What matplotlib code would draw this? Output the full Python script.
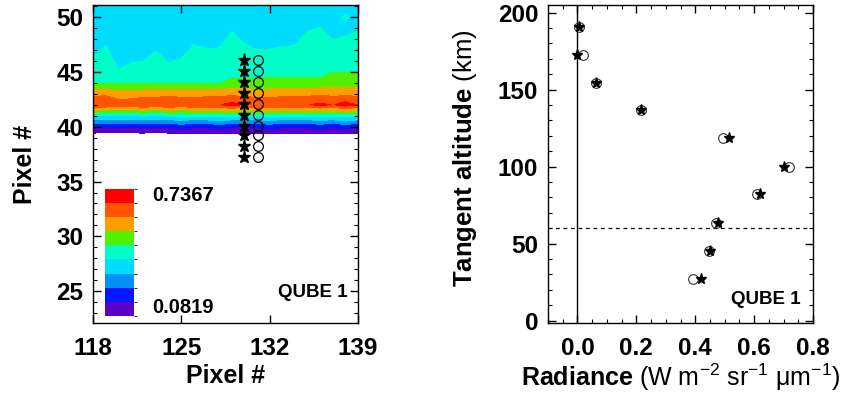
import numpy as np
import matplotlib
matplotlib.use("Agg")
import matplotlib.pyplot as plt
from matplotlib.colors import ListedColormap, BoundaryNorm
from matplotlib.ticker import MultipleLocator

plt.rcParams["font.family"] = "Liberation Sans"
plt.rcParams["mathtext.fontset"] = "custom"
plt.rcParams["mathtext.rm"] = "Liberation Sans"
plt.rcParams["mathtext.bf"] = "Liberation Sans:bold"
plt.rcParams["mathtext.it"] = "Liberation Sans:italic"

# ---- left panel: radiance image of the qube (pixel columns x pixel rows)
columns = np.arange(118, 140)
rows = np.array([39, 40, 41, 42, 43, 44, 45, 46, 47, 48, 49, 50, 51, 52])
radiance_map = np.array([
    [0.02, 0.01, 0.00, 0.01, 0.02, 0.00, 0.02, 0.03, 0.02, 0.02, 0.03, 0.02, 0.02, 0.02, 0.03, 0.02, 0.02, 0.02, 0.03, 0.02, 0.03, 0.02],
    [0.17, 0.16, 0.16, 0.17, 0.17, 0.16, 0.17, 0.18, 0.17, 0.17, 0.18, 0.17, 0.17, 0.17, 0.18, 0.17, 0.17, 0.17, 0.18, 0.17, 0.18, 0.17],
    [0.38, 0.37, 0.36, 0.37, 0.38, 0.37, 0.38, 0.38, 0.38, 0.38, 0.39, 0.38, 0.38, 0.38, 0.38, 0.38, 0.38, 0.38, 0.38, 0.38, 0.39, 0.38],
    [0.65, 0.65, 0.63, 0.64, 0.65, 0.64, 0.65, 0.64, 0.65, 0.65, 0.66, 0.69, 0.66, 0.65, 0.65, 0.65, 0.65, 0.66, 0.68, 0.66, 0.70, 0.66],
    [0.57, 0.58, 0.55, 0.55, 0.56, 0.57, 0.57, 0.57, 0.56, 0.57, 0.57, 0.57, 0.57, 0.56, 0.56, 0.57, 0.57, 0.57, 0.58, 0.57, 0.57, 0.57],
    [0.44, 0.44, 0.44, 0.44, 0.44, 0.44, 0.44, 0.44, 0.44, 0.44, 0.44, 0.46, 0.46, 0.46, 0.465, 0.465, 0.465, 0.465, 0.465, 0.48, 0.48, 0.48],
    [0.405, 0.42, 0.378, 0.393, 0.398, 0.415, 0.393, 0.403, 0.42, 0.42, 0.42, 0.425, 0.425, 0.425, 0.425, 0.425, 0.425, 0.425, 0.425, 0.445, 0.445, 0.445],
    [0.380, 0.408, 0.353, 0.368, 0.373, 0.395, 0.368, 0.378, 0.410, 0.400, 0.403, 0.420, 0.413, 0.398, 0.400, 0.405, 0.408, 0.420, 0.420, 0.420, 0.420, 0.420],
    [0.355, 0.383, 0.340, 0.345, 0.348, 0.370, 0.345, 0.353, 0.385, 0.375, 0.378, 0.415, 0.388, 0.373, 0.375, 0.380, 0.383, 0.415, 0.420, 0.395, 0.405, 0.415],
    [0.340, 0.358, 0.335, 0.335, 0.335, 0.345, 0.335, 0.335, 0.360, 0.350, 0.353, 0.390, 0.363, 0.348, 0.350, 0.355, 0.358, 0.390, 0.398, 0.370, 0.380, 0.390],
    [0.335, 0.340, 0.335, 0.335, 0.335, 0.335, 0.335, 0.335, 0.340, 0.335, 0.335, 0.365, 0.340, 0.335, 0.335, 0.335, 0.340, 0.365, 0.374, 0.345, 0.355, 0.365],
    [0.335, 0.335, 0.335, 0.335, 0.335, 0.335, 0.335, 0.335, 0.335, 0.335, 0.335, 0.340, 0.335, 0.335, 0.335, 0.335, 0.335, 0.340, 0.348, 0.345, 0.385, 0.340],
    [0.335, 0.335, 0.335, 0.335, 0.335, 0.335, 0.335, 0.335, 0.335, 0.335, 0.335, 0.335, 0.335, 0.335, 0.335, 0.335, 0.335, 0.335, 0.335, 0.335, 0.335, 0.335],
    [0.335, 0.335, 0.335, 0.335, 0.335, 0.335, 0.335, 0.335, 0.335, 0.335, 0.335, 0.335, 0.335, 0.335, 0.335, 0.335, 0.335, 0.335, 0.335, 0.335, 0.335, 0.335],
])
level_min, level_max = 0.0819, 0.7367
level_colors = ["#5a00c8", "#0018ff", "#0090f8", "#00dcff", "#00ffc8",
                "#50f000", "#ffa000", "#ff5500", "#ff0000"]

# line-of-sight positions on the detector
star_col = [130.0] * 10
star_row = [46.1, 45.1, 44.1, 43.1, 42.1, 41.1, 40.1, 39.2, 38.2, 37.2]
circle_col = [131.1] * 10
circle_row = star_row

# ---- right panel: radiance profile vs tangent altitude
altitude = [191, 172.5, 154.5, 136.5, 118.5, 100, 82, 63.5, 45.5, 27]
rad_star = [0.005, 0.0, 0.063, 0.217, 0.516, 0.700, 0.620, 0.478, 0.449, 0.421]
rad_circle = [0.005, 0.02, 0.063, 0.217, 0.496, 0.718, 0.610, 0.470, 0.447, 0.393]

fig = plt.figure(figsize=(8.48, 3.98), dpi=100)
ax1 = fig.add_axes([93 / 848, 75 / 398, 265 / 848, 318 / 398])
ax2 = fig.add_axes([548 / 848, 75 / 398, 265 / 848, 318 / 398])

levels = np.linspace(level_min, level_max, len(level_colors) + 1)
cmap = ListedColormap(level_colors)
norm = BoundaryNorm(levels, cmap.N)
cs = ax1.contourf(columns, rows, radiance_map, levels=levels, cmap=cmap, norm=norm)

ax1.plot(star_col, star_row, "*", color="black", ms=9.5, mec="black")
ax1.plot(circle_col, circle_row, "o", mfc="none", mec="black", ms=7, mew=0.9)

ax1.set_xlim(118, 139)
ax1.set_ylim(22.1, 51.1)
ax1.set_xticks([118, 125, 132, 139])
ax1.yaxis.set_major_locator(MultipleLocator(5))
ax1.yaxis.set_minor_locator(MultipleLocator(1))
ax1.set_xlabel("Pixel #", fontsize=18, fontweight="bold", labelpad=3)
ax1.set_ylabel("Pixel #", fontsize=18, fontweight="bold")
ax1.yaxis.set_label_coords(-0.21, 0.5)
ax1.text(0.96, 0.095, "QUBE 1", transform=ax1.transAxes, ha="right", va="center",
         fontsize=13.5, fontweight="bold")

cax = ax1.inset_axes([0.045, 0.022, 0.109, 0.40])
cb = fig.colorbar(cs, cax=cax)
cb.outline.set_visible(False)
cax.set_yticks([])
ax1.text(0.222, 0.400, f"{level_max:.4f}", transform=ax1.transAxes, ha="left",
         va="center", fontsize=14.5, fontweight="bold")
ax1.text(0.222, 0.048, f"{level_min:.4f}", transform=ax1.transAxes, ha="left",
         va="center", fontsize=14.5, fontweight="bold")

ax2.axvline(0, color="black", lw=1)
ax2.axhline(60, color="black", lw=0.9, ls=(0, (3, 3)))
ax2.plot(rad_circle, altitude, "o", mfc="none", mec="#333333", ms=7, mew=0.8)
ax2.plot(rad_star, altitude, "*", color="black", ms=8)
ax2.set_xlim(-0.1, 0.8)
ax2.set_ylim(-1.5, 205)
ax2.xaxis.set_major_locator(MultipleLocator(0.2))
ax2.xaxis.set_minor_locator(MultipleLocator(0.05))
ax2.yaxis.set_major_locator(MultipleLocator(50))
ax2.yaxis.set_minor_locator(MultipleLocator(10))
ax2.set_xticks([0.0, 0.2, 0.4, 0.6, 0.8])
ax2.set_xticklabels(["0.0", "0.2", "0.4", "0.6", "0.8"])
ax2.set_xlabel(r"$\mathbf{Radiance}$ (W m$^{-2}$ sr$^{-1}$ μm$^{-1}$)", fontsize=18, labelpad=1)
ax2.set_ylabel(r"$\mathbf{Tangent\ altitude}$ (km)", fontsize=18.5)
ax2.yaxis.set_label_coords(-0.26, 0.52)
ax2.text(0.955, 0.075, "QUBE 1", transform=ax2.transAxes, ha="right", va="center",
         fontsize=13.5, fontweight="bold")

for ax in (ax1, ax2):
    ax.tick_params(which="both", direction="in", top=True, right=True)
    ax.tick_params(which="major", length=6, width=1)
    ax.tick_params(which="minor", length=3, width=0.8)
    ax.tick_params(axis="x", pad=10, labelsize=17.5)
    ax.tick_params(axis="y", pad=7, labelsize=17.5)
    for lab in ax.get_xticklabels() + ax.get_yticklabels():
        lab.set_fontweight("bold")
    for sp in ax.spines.values():
        sp.set_linewidth(1)
ax1.tick_params(axis="x", which="minor", bottom=False, top=False)

fig.savefig("out.png", dpi=100)
